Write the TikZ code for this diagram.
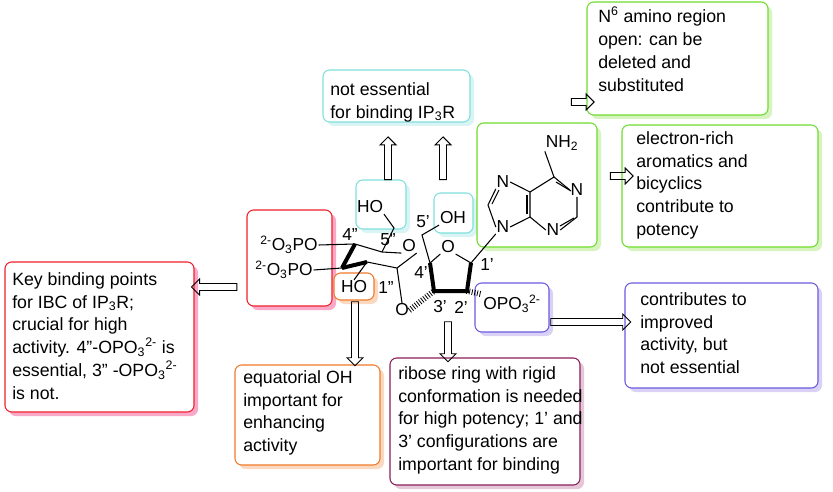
\documentclass[tikz,border=0pt]{standalone}
\usepackage{fontspec}
\setmainfont{Liberation Sans}
\usetikzlibrary{shapes.arrows,decorations.pathreplacing}
\definecolor{cR}{HTML}{F0202A}\definecolor{cRs}{HTML}{F9A8C8}
\definecolor{cC}{HTML}{7FE0DC}\definecolor{cCs}{HTML}{D8F4F4}
\definecolor{cG}{HTML}{6EDC2E}\definecolor{cGs}{HTML}{D7F3C0}
\definecolor{cO}{HTML}{F07A2A}\definecolor{cOs}{HTML}{FBD8C0}
\definecolor{cP}{HTML}{6A5AE0}\definecolor{cPs}{HTML}{D9D2F6}
\definecolor{cM}{HTML}{8A1E5A}\definecolor{cMs}{HTML}{E4C8D8}
\newcommand{\dq}{\char34 }
\newcommand{\sq}{\char39 }
\newcommand{\tsb}[1]{\textsubscript{#1}}
\newcommand{\tsp}[1]{\textsuperscript{#1}}
\begin{document}
\begin{tikzpicture}[x=0.75pt,y=-0.75pt,font=\fontsize{13.3}{17.2}\selectfont,
 tx/.style={anchor=north west,align=left,inner sep=0pt},
 lb/.style={inner sep=0.5pt,font=\fontsize{13}{13}\selectfont},
 bond/.style={line width=0.8pt},
 bold/.style={line width=3pt},
 hash/.style={decorate,decoration={ticks,segment length=2pt,amplitude=2.2pt},line width=0.6pt}]
\useasboundingbox (0,0) rectangle (833,492);
\newcommand{\shbox}[6]{%
 \fill[#6,rounded corners=5pt] (#1+4,#2+4) rectangle (#3+4,#4+4);
 \draw[#5,line width=0.8pt,rounded corners=5pt,fill=white] (#1,#2) rectangle (#3,#4);}
% boxes
\shbox{5}{262}{194}{412}{cR}{cRs}
\shbox{247}{210}{332}{306}{cR}{cRs}
\shbox{323}{70}{470}{122}{cC}{cCs}
\shbox{356}{180}{406}{229}{cC}{cCs}
\shbox{434}{193}{473}{233}{cC}{cCs}
\shbox{477}{123}{597}{247}{cG}{cGs}
\shbox{587}{2}{768}{115}{cG}{cGs}
\shbox{622}{125}{818}{247}{cG}{cGs}
\shbox{334}{273}{374}{300}{cO}{cOs}
\shbox{235}{365}{380}{465}{cO}{cOs}
\shbox{475}{283}{549}{332}{cP}{cPs}
\shbox{625}{283}{818}{388}{cP}{cPs}
\shbox{390}{358}{580}{485}{cM}{cMs}
% texts
\node[tx] (t1) at (12,272) {Key binding points\\for IBC of IP\tsb{3}R;\\crucial for high\\activity. 4\dq-OPO\tsb{3}\tsp{2-} is\\essential, 3\dq\ -OPO\tsb{3}\tsp{2-}\\ is not.};
\node[tx] (t2) at (330,82) {not essential\\ for binding IP\tsb{3}R};
\node[tx] (t3) at (598,7) {N\tsp{6} amino region\\open: can be\\deleted and\\substituted};
\node[tx] (t4) at (636,131) {electron-rich\\aromatics and\\bicyclics\\contribute to\\potency};
\node[tx] (t5) at (243,370) {equatorial OH\\important  for\\enhancing\\activity};
\node[tx] (t6) at (640,292) {contributes to\\improved\\activity, but\\not essential};
\node[tx] (t7) at (398,366) {ribose ring with rigid\\conformation is needed\\for high potency; 1\sq\ and\\3\sq\ configurations are\\important for binding};
% arrows
\tikzset{ar/.style={single arrow,draw,line width=0.7pt,minimum height=#1,single arrow head extend=3pt,minimum width=12pt,inner sep=2pt}}
\node[ar=34pt,shape border rotate=180] (a1) at (216,287) {};
\node[ar=32pt,shape border rotate=90] (a2) at (388,160) {};
\node[ar=32pt,shape border rotate=90] (a3) at (443,160) {};
\node[ar=17pt] (a4) at (581,102) {};
\node[ar=17pt] (a5) at (620,176) {};
\node[ar=48pt,shape border rotate=270] (a6) at (355,332) {};
\node[ar=30pt,shape border rotate=270] (a7) at (448,340) {};
\node[ar=60pt] (a8) at (589,322) {};
% molecule labels
\node[lb] (p1) at (289,245) {\tsp{2-}O\tsb{3}PO};
\node[lb] (p2) at (284,270) {\tsp{2-}O\tsb{3}PO};
\node[lb] (ho1) at (370,207) {HO};
\node[lb] (ho2) at (354,287) {HO};
\node[lb] (oring) at (409,246) {O};
\node[lb] (og) at (402,310) {O};
\node[lb] (oh) at (453,218) {OH};
\node[lb] (or) at (448,247) {O};
\node[lb] (opo) at (512,304) {OPO\tsb{3}\tsp{2-}};
\node[lb] (n9) at (503,227) {N};
\node[lb] (n7) at (503,182) {N};
\node[lb] (n1) at (577,190) {N};
\node[lb] (n3) at (553,230) {N};
\node[lb] (nh2) at (562,143) {NH\tsb{2}};
\node[lb] at (350,235) {4\dq};
\node[lb] at (388,240) {5\dq};
\node[lb] at (386,288) {1\dq};
\node[lb] at (423,222) {5\sq};
\node[lb] at (421,273) {4\sq};
\node[lb] at (487,265) {1\sq};
\node[lb] at (440,307) {3\sq};
\node[lb] at (461,307) {2\sq};
% pyranose
\coordinate (c4) at (355,244); \coordinate (c3) at (342,268);
\coordinate (c2) at (367,262); \coordinate (c1) at (397,268);
\coordinate (c5) at (382,252);
\draw[bond] (p1.east) -- (c4) -- (c5) -- (oring.south west);
\draw[bold] (c4) -- (c3);
\draw[bond] (p2.east) -- (c3);
\draw[bold] (c3) -- (c2);
\draw[bond] (c2) -- (c1) -- (oring.south east);
\draw[bond] (c2) -- (ho2.north);
\draw[bond] (c5) -- (394,228) -- (ho1.south east);
\draw[bond] (c1) -- (og.north);
% ribose
\coordinate (r4) at (430,263); \coordinate (r1) at (471,263);
\coordinate (r3) at (434,291); \coordinate (r2) at (467,291);
\draw[bond] (or.south west) -- (r4); \draw[bond] (or.south east) -- (r1);
\draw[bold] (r4) -- (r3) -- (r2) -- (r1);
\draw[bond] (r4) -- (422,235) -- (oh.south west);
\draw[hash] (og.east) -- (r3);
\draw[hash] (r2) -- (opo.north west);
\draw[bond] (r1) -- (n9.south west);
% purine
\coordinate (c8) at (488,205); \coordinate (c5p) at (530,192);
\coordinate (c4p) at (530,217); \coordinate (c6) at (554,177);
\coordinate (c2p) at (577,217);
\draw[bond] (n9.west) -- (c8) -- (n7.south west);
\draw[bond] (492,204) -- (499,190);
\draw[bond] (n7.east) -- (c5p) -- (c4p) -- (n9.east);
\draw[bond] (527,195) -- (527,214);
\draw[bond] (c5p) -- (c6) -- (n1.west);
\draw[bond] (c6) -- (nh2.south west);
\draw[bond] (556,182) -- (571,191);
\draw[bond] (n1.south) -- (c2p) -- (n3.east);
\draw[bond] (574,218) -- (560,226);
\draw[bond] (n3.west) -- (c4p);
\end{tikzpicture}
\end{document}
